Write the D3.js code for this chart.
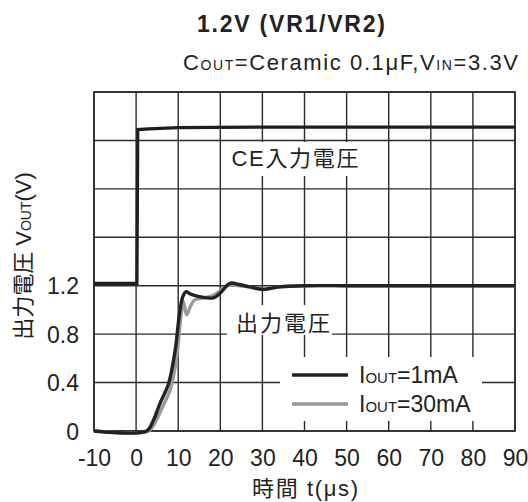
<!DOCTYPE html>
<html><head><meta charset="utf-8">
<script src="https://cdn.jsdelivr.net/npm/d3@7"></script>
<style>
body{margin:0;background:#fff;}
svg{display:block;}
text{font-family:"Liberation Sans",Arial,"Noto Sans CJK JP",sans-serif;}
.cjk{font-family:"Liberation Sans","Noto Sans CJK JP",sans-serif;}
</style>
</head><body>
<script>
// ---- data ----
const xTicks = [-10,0,10,20,30,40,50,60,70,80,90];
const yTicks = [0,0.4,0.8,1.2];
const yGrid = [0,0.4,0.8,1.2,1.6,2.0,2.4,2.8];
const ceT = [-10,0.2,0.4,3,10,30,60,90];
const ceV = [1.22,1.22,2.49,2.495,2.505,2.51,2.51,2.51];
const out1T = [-10,2.5,4,5.7,7.7,9.3,10.2,11.0,11.8,13,15,18.4,20,22.3,24.5,27,30.2,34,40,50,60,70,80,90];
const out1V = [0,0,0.08,0.23,0.39,0.67,0.94,1.10,1.15,1.13,1.11,1.10,1.14,1.22,1.21,1.19,1.17,1.19,1.20,1.20,1.20,1.20,1.20,1.20];
const out30T = [-10,3,4.5,6.3,8.1,9.6,10.5,11.2,12.0,12.8,13.8,16,18.4,20,22.3,24.5,27,30.2,34,40,50,60,70,80,90];
const out30V = [0,0,0.07,0.2,0.34,0.6,0.9,1.07,0.96,1.02,1.08,1.10,1.12,1.16,1.21,1.20,1.19,1.17,1.19,1.20,1.20,1.20,1.20,1.20,1.20];
const series = [
  {name:"1mA", t:out1T, v:out1V, color:"#222"},
  {name:"30mA", t:out30T, v:out30V, color:"#999"}
];

const W=528,H=502;
const svg=d3.select("body").append("svg").attr("width",W).attr("height",H);
const x=d3.scaleLinear().domain([-10,90]).range([94,515]);
const y=d3.scaleLinear().domain([0,2.8]).range([431,92]);
const ink="#222";

// grid
const g=svg.append("g");
g.selectAll(".vg").data(xTicks).join("line")
  .attr("x1",d=>x(d)).attr("x2",d=>x(d)).attr("y1",y(2.8)).attr("y2",y(0))
  .attr("stroke","#2a2a2a").attr("stroke-width",1.4);
g.selectAll(".hg").data(yGrid).join("line")
  .attr("y1",d=>y(d)).attr("y2",d=>y(d)).attr("x1",x(-10)).attr("x2",x(90))
  .attr("stroke","#2a2a2a").attr("stroke-width",1.4);
svg.append("rect").attr("x",x(-10)).attr("y",y(2.8)).attr("width",x(90)-x(-10)).attr("height",y(0)-y(2.8))
  .attr("fill","none").attr("stroke","#2a2a2a").attr("stroke-width",1.6);

// label boxes (white backgrounds)
svg.append("rect").attr("x",225).attr("y",142).attr("width",141).attr("height",34).attr("fill","#fff");
svg.append("rect").attr("x",227).attr("y",305).attr("width",105).attr("height",30).attr("fill","#fff");
svg.append("rect").attr("x",280).attr("y",357).attr("width",202).attr("height",64).attr("fill","#fff");

// traces
const line=d3.line().x(d=>x(d[0])).y(d=>y(d[1])).curve(d3.curveCatmullRom.alpha(0.5));
const ceLine=d3.line().x(d=>x(d[0])).y(d=>y(d[1]));
svg.append("path").datum(ceT.map((t,i)=>[t,ceV[i]])).attr("d",ceLine)
  .attr("fill","none").attr("stroke","#1e1e1e").attr("stroke-width",3.2);
[series[1],series[0]].forEach(s=>{
  svg.append("path").datum(s.t.map((t,i)=>[t,s.v[i]])).attr("d",line)
    .attr("fill","none").attr("stroke",s.color).attr("stroke-width",3.4).attr("stroke-linejoin","round");
});

// axis tick labels
const ax=d3.axisBottom(x).tickValues(xTicks).tickSize(0).tickPadding(0).tickFormat(d=>String(d));
const axg=svg.append("g").attr("transform",`translate(0,${y(0)})`).call(ax);
axg.select(".domain").remove();
axg.selectAll("text").attr("y",35).attr("dy",0).attr("font-size",23).style("font-family","Liberation Sans, Arial, sans-serif").style("fill",ink);
const ay=d3.axisLeft(y).tickValues(yTicks).tickSize(0).tickPadding(0).tickFormat(d=>d===0?"0":d3.format(".1f")(d));
const ayg=svg.append("g").attr("transform",`translate(79,0)`).call(ay);
ayg.select(".domain").remove();
ayg.selectAll("text").attr("dy","0.36em").attr("x",0).attr("font-size",23).style("font-family","Liberation Sans, Arial, sans-serif").style("fill",ink);

// titles
svg.append("text").attr("x",291).attr("y",32).attr("text-anchor","middle").style("fill",ink)
  .attr("font-size",23).attr("font-weight","bold").attr("textLength",188).attr("lengthAdjust","spacing").text("1.2V (VR1/VR2)");
const sub=svg.append("text").attr("x",183).attr("y",70).attr("font-size",22).style("fill",ink).attr("textLength",335).attr("lengthAdjust","spacing");
sub.append("tspan").text("C");
sub.append("tspan").attr("font-size",14).text("OUT");
sub.append("tspan").text("=Ceramic 0.1μF,V");
sub.append("tspan").attr("font-size",14).text("IN");
sub.append("tspan").text("=3.3V");

// in-plot labels
svg.append("text").attr("class","cjk").attr("x",295).attr("y",166).attr("text-anchor","middle").attr("font-size",22).style("fill",ink)
  .attr("textLength",127).attr("lengthAdjust","spacing").text("CE入力電圧");
svg.append("text").attr("class","cjk").attr("x",283).attr("y",331).attr("text-anchor","middle").attr("font-size",22).style("fill",ink)
  .attr("textLength",94).attr("lengthAdjust","spacing").text("出力電圧");

// legend
series.forEach((s,i)=>{
  const ly=375+i*29;
  svg.append("line").attr("x1",292).attr("x2",348).attr("y1",ly).attr("y2",ly).attr("stroke",s.color).attr("stroke-width",3.4);
  const t=svg.append("text").attr("x",359).attr("y",ly+8).attr("font-size",23).style("fill",ink);
  t.append("tspan").text("I");
  t.append("tspan").attr("font-size",15).text("OUT");
  t.append("tspan").text("="+s.name);
});

// axis titles
svg.append("text").attr("class","cjk").attr("x",305).attr("y",496).attr("text-anchor","middle").attr("font-size",22).style("fill",ink)
  .attr("textLength",106).attr("lengthAdjust","spacing").text("時間  t(μs)");
const yl=svg.append("text").attr("class","cjk").attr("transform","translate(31,256) rotate(-90)").attr("text-anchor","middle").attr("font-size",22).style("fill",ink);
yl.append("tspan").text("出力電圧 V");
yl.append("tspan").attr("font-size",14).text("OUT");
yl.append("tspan").text("(V)");
</script>
</body></html>
